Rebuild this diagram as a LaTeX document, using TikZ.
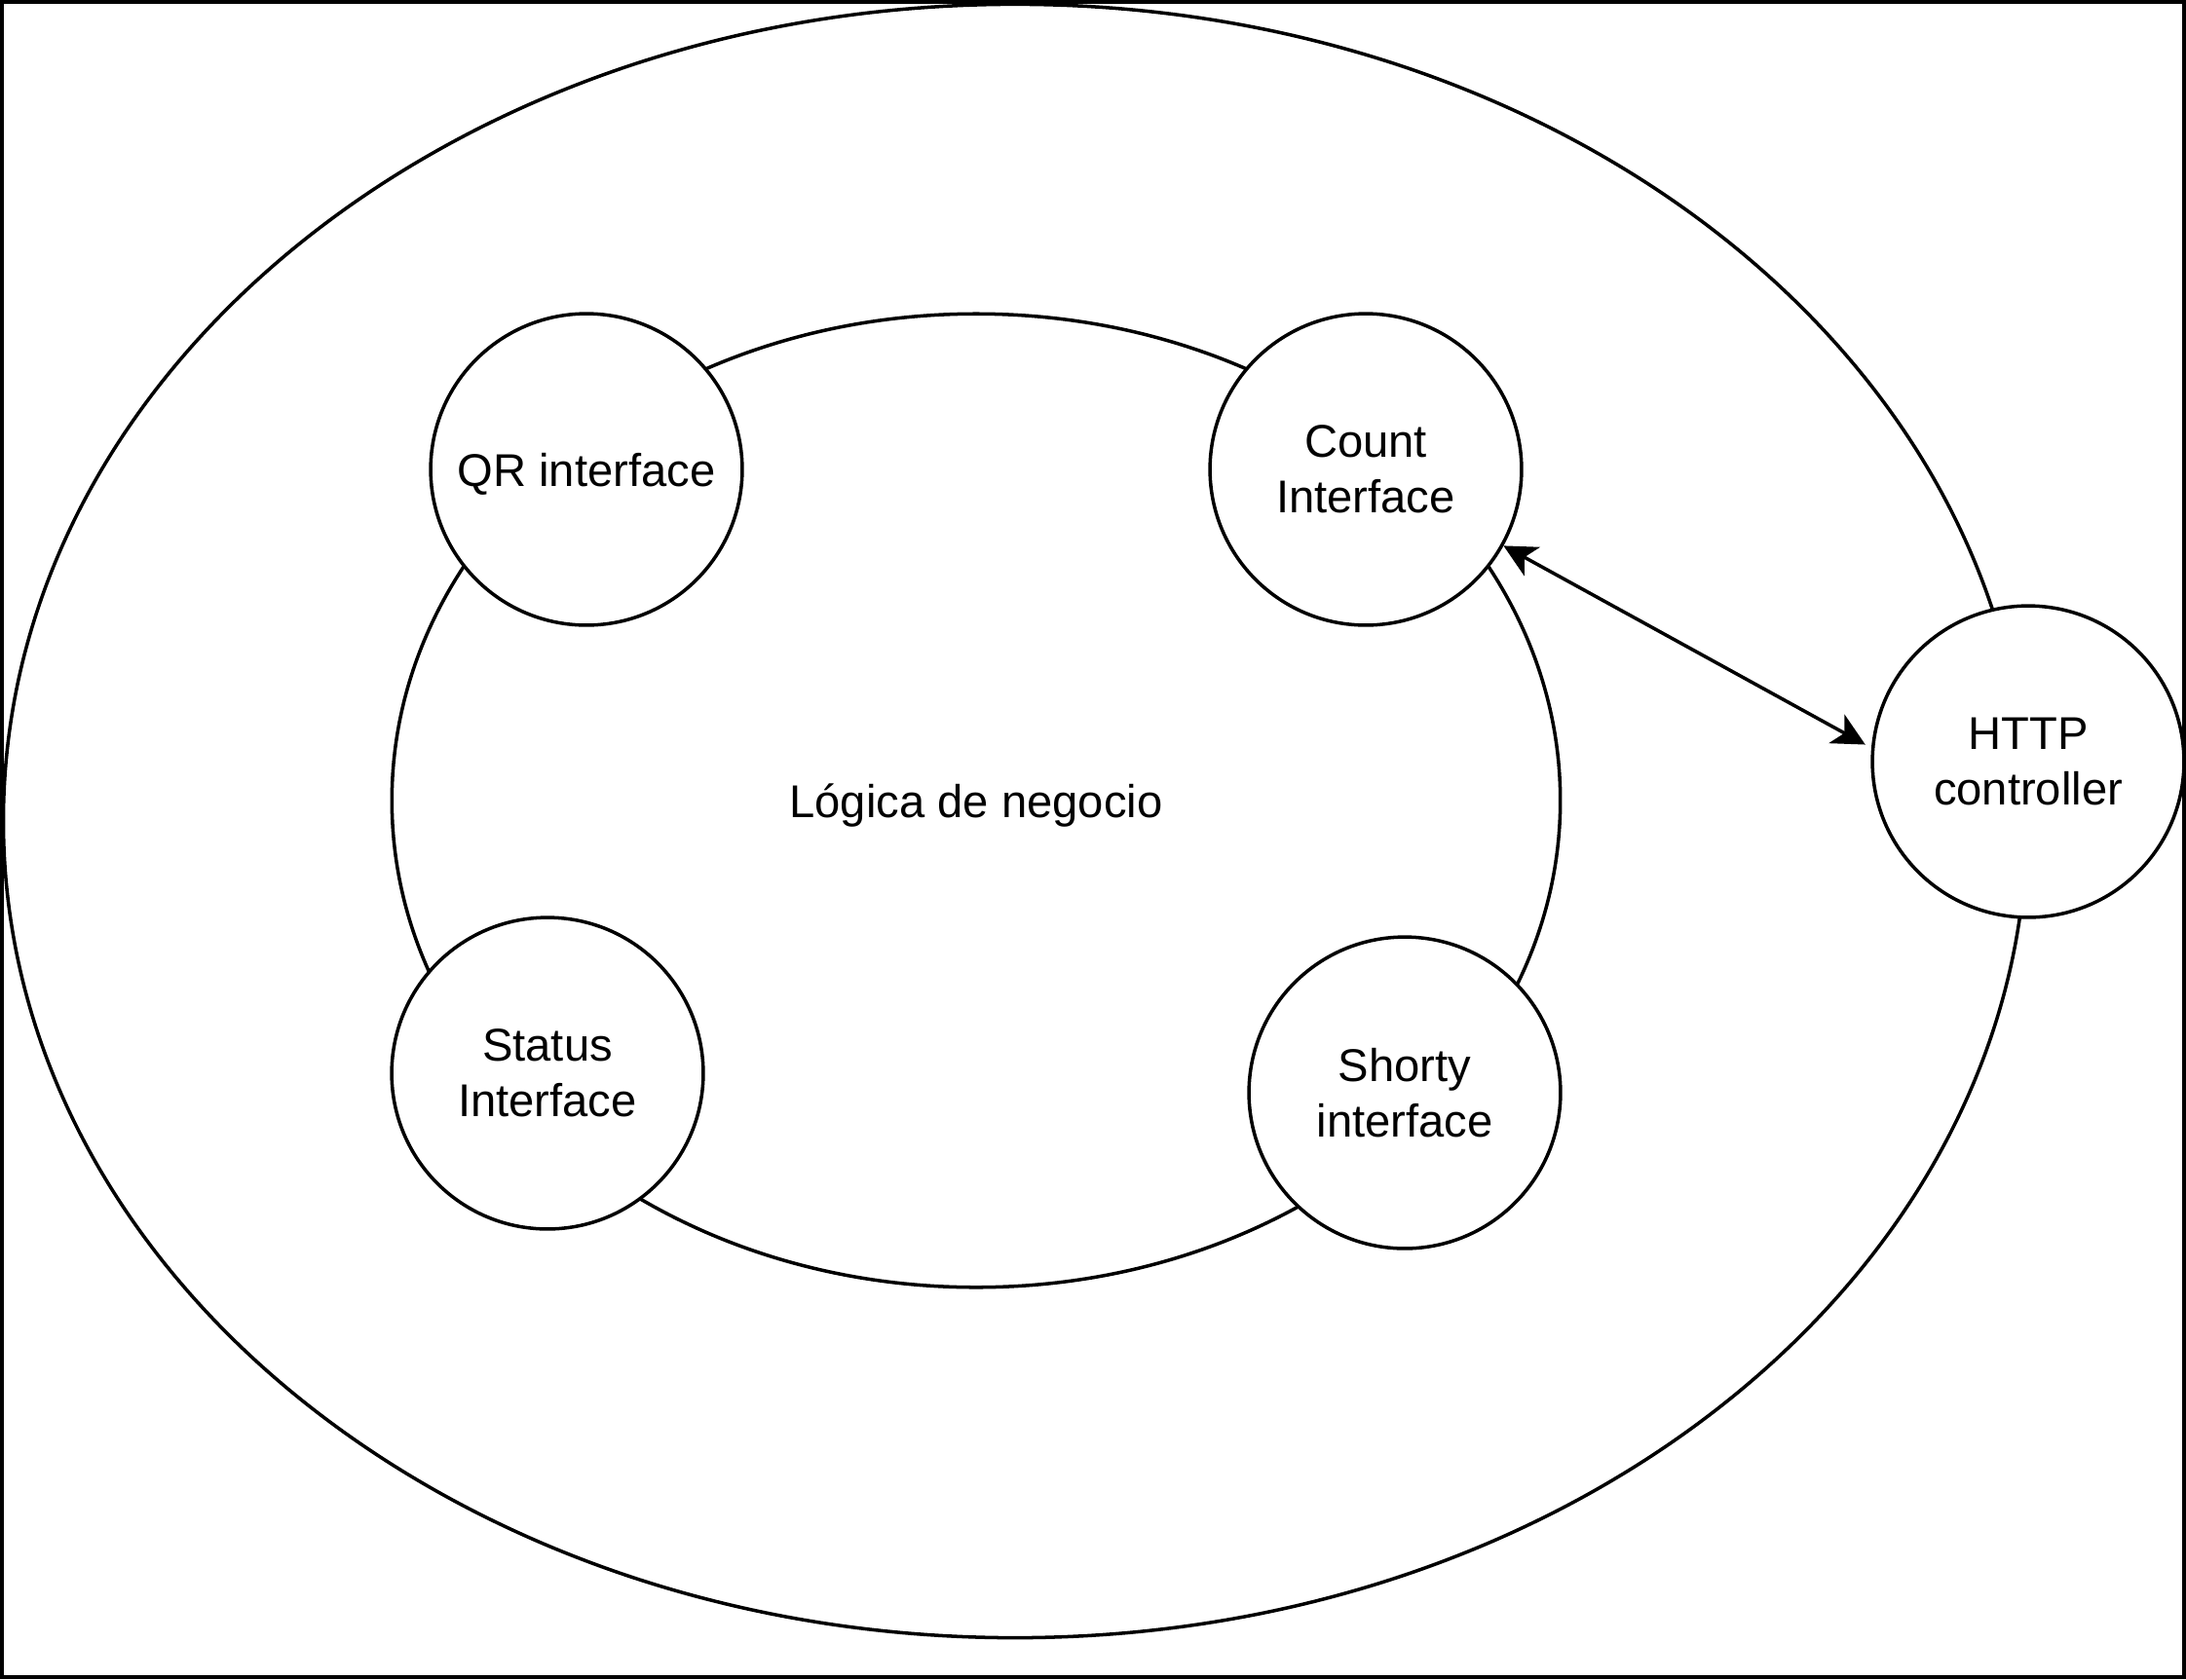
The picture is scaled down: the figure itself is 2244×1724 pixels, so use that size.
\documentclass[tikz,border=0pt]{standalone}
\usepackage{fontspec}
\setmainfont{Liberation Sans}
\usetikzlibrary{shapes.geometric,arrows.meta}

\begin{document}
\begin{tikzpicture}[x=0.007cm,y=-0.007cm,line width=0.7pt,font=\fontsize{9.4}{11.3}\selectfont]
	\tikzstyle{iface}=[circle,draw,fill=white,minimum size=2.24cm,inner sep=0pt,align=center]
	\tikzstyle{layer}=[ellipse,draw,inner sep=0pt]
	\tikzstyle{oneline}=[text height=0.716em,text depth=0pt]
		\useasboundingbox (0,0) rectangle (2244,1724);
		\draw[line width=0.8pt] (2,2) rectangle (2242,1722);
		\node[layer, minimum width=14.546cm, minimum height=11.746cm] (infra) at (1042,843) {};
		\node[layer, oneline, minimum width=8.4cm, minimum height=7.0cm] (logica) at (1002,822) {Lógica de negocio};
		\node[iface, oneline] (qr) at (602,482) {QR interface};
		\node[iface] (count) at (1402,482) {Count\\Interface};
		\node[iface] (status) at (562,1102) {Status\\Interface};
		\node[iface] (shorty) at (1442,1122) {Shorty\\interface};
		\node[iface] (http) at (2082,782) {HTTP\\controller};
			\draw[<->,>={Stealth[length=0.234cm,width=0.234cm,inset=0.063cm]},shorten >=1.4pt] (count.-29.6) -- (http.175);
\end{tikzpicture}
\end{document}
